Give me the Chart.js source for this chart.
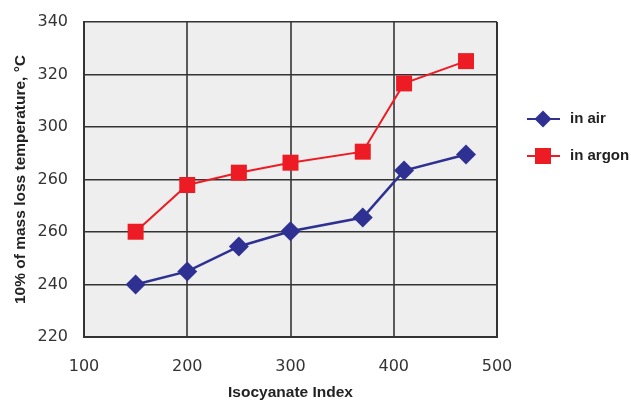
<!DOCTYPE html>
<html>
<head>
<meta charset="utf-8">
<script src="https://cdn.jsdelivr.net/npm/chart.js@4/dist/chart.umd.min.js"></script>
<style>
  html, body { margin: 0; padding: 0; background: #ffffff; }
  #wrap { width: 631px; height: 400px; position: relative; }
</style>
</head>
<body>
<div id="wrap"><canvas id="chart" width="631" height="400"></canvas></div>
<script>
// Isocyanate index values (x) and 10% mass-loss temperatures (°C)
const indexValues = [150, 200, 250, 300, 370, 410, 470];
const airTemps    = [240, 245, 254.5, 260.3, 265.5, 283.4, 289.5];
const argonTemps  = [260.1, 277.9, 282.6, 286.4, 290.6, 316.6, 325.1];

const seriesNames = ['in air', 'in argon'];

// Printed y-axis tick labels, bottom to top
const yTickValues = [220, 240, 260, 280, 300, 320, 340];
const yTickLabels = ['220', '240', '260', '260', '300', '320', '340'];

const xTickValues = [100, 200, 300, 400, 500];

const BLUE = '#2e3192';
const RED = '#ed1c24';

const toPoints = ys => indexValues.map((x, i) => ({ x: x, y: ys[i] }));

// Grey plot-area fill behind the grid
const plotBackground = {
  id: 'plotBackground',
  beforeDraw(chart) {
    const { ctx, chartArea: a } = chart;
    ctx.save();
    ctx.fillStyle = '#eeeeee';
    ctx.fillRect(a.left, a.top, a.right - a.left, a.bottom - a.top);
    ctx.restore();
  }
};

// Legend to the right of the plot: line segment with the series marker
const sideLegend = {
  id: 'sideLegend',
  afterDraw(chart) {
    const { ctx } = chart;
    const rows = [119, 156];
    chart.data.datasets.forEach((ds, i) => {
      const y = rows[i];
      const x0 = 527, x1 = 560, cx = 543;
      ctx.save();
      ctx.strokeStyle = ds.borderColor;
      ctx.lineWidth = 2;
      ctx.beginPath();
      ctx.moveTo(x0, y);
      ctx.lineTo(x1, y);
      ctx.stroke();
      ctx.fillStyle = ds.backgroundColor;
      ctx.strokeStyle = ds.backgroundColor;
      Chart.helpers.drawPoint(ctx, {
        pointStyle: ds.pointStyle,
        radius: ds.legendRadius,
        borderWidth: 0
      }, cx, y);
      ctx.fillStyle = '#222222';
      ctx.font = 'bold 15px "Liberation Sans", Arial, sans-serif';
      ctx.textAlign = 'left';
      ctx.textBaseline = 'middle';
      ctx.fillText(ds.label, 570, y);
      ctx.restore();
    });
  }
};

new Chart(document.getElementById('chart'), {
  type: 'line',
  data: {
    datasets: [
      {
        label: seriesNames[0],
        data: toPoints(airTemps),
        borderColor: BLUE,
        backgroundColor: BLUE,
        borderWidth: 2.5,
        pointStyle: 'rectRot',
        pointRadius: 10,
        pointHoverRadius: 10,
        legendRadius: 8.5,
        pointBorderWidth: 0,
        tension: 0
      },
      {
        label: seriesNames[1],
        data: toPoints(argonTemps),
        borderColor: RED,
        backgroundColor: RED,
        borderWidth: 2,
        pointStyle: 'rect',
        pointRadius: 11.3,
        pointHoverRadius: 11.3,
        legendRadius: 11.3,
        pointBorderWidth: 0,
        tension: 0
      }
    ]
  },
  options: {
    responsive: false,
    maintainAspectRatio: false,
    animation: false,
    devicePixelRatio: 1,
    layout: { padding: { left: 0, top: 22, right: 134, bottom: 0 } },
    plugins: {
      legend: { display: false },
      tooltip: { enabled: false }
    },
    scales: {
      x: {
        type: 'linear',
        min: 100,
        max: 500,
        afterBuildTicks: s => { s.ticks = xTickValues.map(v => ({ value: v })); },
        afterFit: s => { s.height = 63; s.paddingLeft = 0; s.paddingRight = 0; },
        grid: {
          color: ctx => (ctx.tick && ctx.tick.value === 500 ? '#333333' : '#5a5a5a'),
          lineWidth: 2,
          drawTicks: false
        },
        border: { color: '#333333', width: 2 },
        ticks: {
          padding: 20,
          maxRotation: 0,
          autoSkip: false,
          color: '#333333',
          font: { family: '"DejaVu Sans", Verdana, sans-serif', size: 16 }
        },
        title: {
          display: true,
          text: 'Isocyanate Index',
          color: '#222222',
          padding: { top: 0, bottom: 0 },
          font: { family: '"Liberation Sans", Arial, sans-serif', size: 15.5, weight: 'bold', lineHeight: 1 }
        }
      },
      y: {
        type: 'linear',
        min: 220,
        max: 340,
        afterBuildTicks: s => { s.ticks = yTickValues.map(v => ({ value: v })); },
        afterFit: s => { s.width = 84; s.paddingTop = 0; s.paddingBottom = 0; },
        grid: {
          color: '#333333',
          lineWidth: 1.5,
          drawTicks: false
        },
        border: { color: '#333333', width: 2 },
        ticks: {
          padding: 16,
          autoSkip: false,
          color: '#333333',
          font: { family: '"DejaVu Sans", Verdana, sans-serif', size: 16 },
          callback: v => yTickLabels[yTickValues.indexOf(v)]
        },
        title: {
          display: true,
          text: '10% of mass loss temperature, °C',
          color: '#222222',
          padding: { top: 13, bottom: 0 },
          font: { family: '"Liberation Sans", Arial, sans-serif', size: 15.5, weight: 'bold', lineHeight: 1 }
        }
      }
    }
  },
  plugins: [plotBackground, sideLegend]
});
</script>
</body>
</html>
